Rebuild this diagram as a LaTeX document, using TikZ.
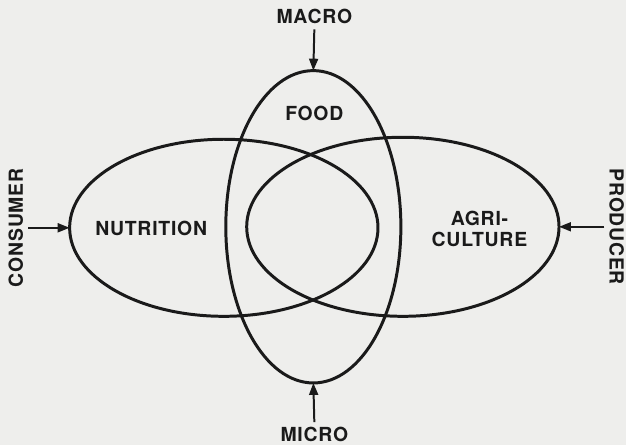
\documentclass[tikz,border=0pt]{standalone}
\usepackage{fontspec}
\setmainfont{TeX Gyre Heros}[LetterSpace=4]
\usetikzlibrary{shapes.geometric,arrows.meta}

\begin{document}
\begin{tikzpicture}[x=1pt,y=1pt,font=\bfseries\fontsize{19.5}{21}\selectfont,
    field/.style={ellipse,draw=vennline,line width=3pt,outer sep=0pt,inner sep=0pt},
    scale label/.style={inner sep=5pt,text=vennline},
    push/.style={-{Triangle[length=12pt,width=9pt]},line width=2pt,draw=vennline}]
  \definecolor{vennline}{HTML}{1A1A1A}
  \definecolor{vennpaper}{HTML}{EEEEEC}

  \fill[vennpaper] (0,0) rectangle (629,447);

  % the three overlapping fields
  \node[field,minimum width=310,minimum height=178] (nutr) at (225,218) {};
  \node[field,minimum width=314,minimum height=180] (agri) at (405,219) {};
  \node[field,minimum width=176,minimum height=314] (food) at (315,219) {};

  \node[text=vennline] (nutrtext) at (152,217) {NUTRITION};
  \node[text=vennline,align=center] (agritext) at (482,217) {AGRI-\\CULTURE};
  \node[text=vennline] (foodtext) at (316,333) {FOOD};

  % the four viewpoints
  \node[scale label] (macro) at (316,430) {MACRO};
  \node[scale label] (micro) at (316,10) {MICRO};
  \node[scale label,rotate=90] (consumer) at (16,218) {CONSUMER};
  \node[scale label,rotate=-90] (producer) at (620,219) {PRODUCER};

  \draw[push] (macro.south) -- (food.north);
  \draw[push] (micro.north) -- (food.south);
  \draw[push] (consumer.south) -- (nutr.west);
  \draw[push] (producer.south) -- (agri.east);

  \path[use as bounding box] (0,0) rectangle (629,447);
\end{tikzpicture}
\end{document}
